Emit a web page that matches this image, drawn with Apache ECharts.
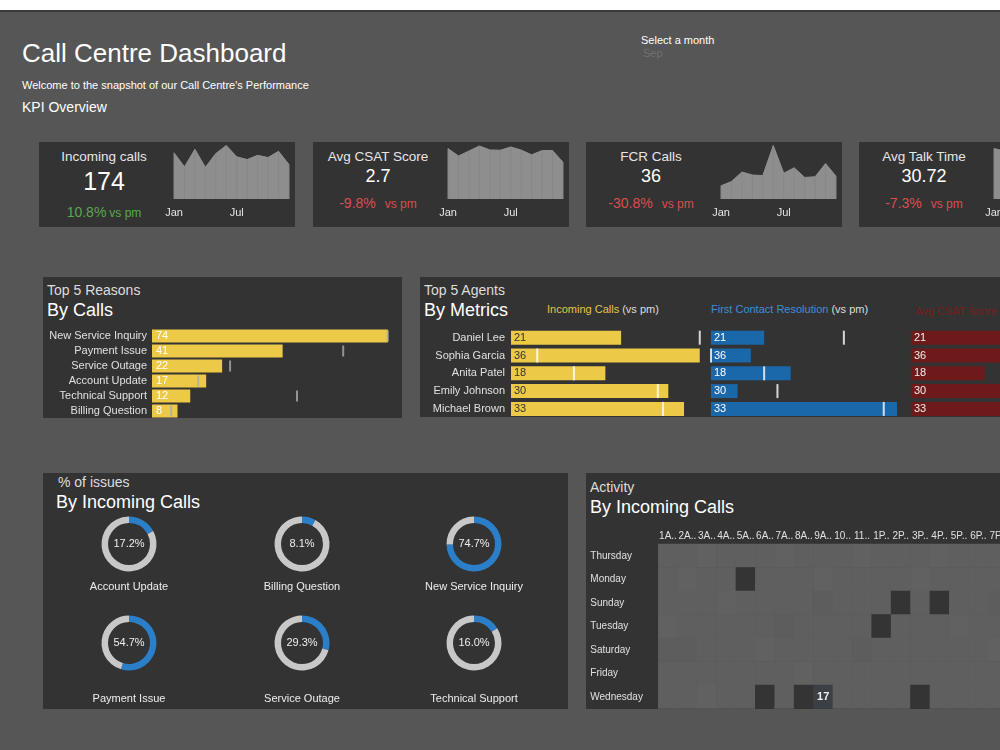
<!DOCTYPE html>
<html lang="en">
<head>
<meta charset="utf-8">
<title>Call Centre Dashboard</title>
<script src="https://cdn.jsdelivr.net/npm/echarts@6.0.0/dist/echarts.min.js"></script>
<style>
  html, body { margin: 0; padding: 0; }
  body { width: 1000px; height: 750px; overflow: hidden; position: relative; background: #fff;
         font-family: "Liberation Sans", Arial, sans-serif; color: #eee; }
  #page { position: absolute; left: 0; top: 10px; width: 1000px; height: 740px; background: #565656;
          border-top: 2px solid #3a3a3a; box-sizing: border-box; }
  .panel { position: absolute; background: #333; }
  .t { position: absolute; white-space: nowrap; line-height: 1; }
  #chart { position: absolute; left: 0; top: 0; width: 1000px; height: 750px; }
</style>
</head>
<body>
<div id="page"></div>

<!-- header -->
<div class="t" style="left:22px;top:39.5px;font-size:26px;color:#fff">Call Centre Dashboard</div>
<div class="t" style="left:22px;top:79.5px;font-size:11px;color:#fff">Welcome to the snapshot of our Call Centre's Performance</div>
<div class="t" style="left:22px;top:100px;font-size:14px;color:#fff">KPI Overview</div>
<div class="t" style="left:641px;top:34.5px;font-size:11px;color:#fff">Select a month</div>
<div class="t" id="month" style="left:643px;top:47.5px;font-size:11px;color:#707070"></div>

<!-- panels -->
<div class="panel" style="left:43px;top:277px;width:359px;height:141px"></div>
<div class="panel" style="left:420px;top:277px;width:600px;height:140px"></div>
<div class="panel" style="left:43px;top:473px;width:525px;height:236px"></div>
<div class="panel" style="left:586px;top:473px;width:500px;height:236px"></div>

<div class="t" style="left:47px;top:283px;font-size:14px;color:#ddd">Top 5 Reasons</div>
<div class="t" style="left:47px;top:300.5px;font-size:18px;color:#fff">By Calls</div>
<div class="t" style="left:424px;top:283px;font-size:14px;color:#ddd">Top 5 Agents</div>
<div class="t" style="left:424px;top:300.5px;font-size:18px;color:#fff">By Metrics</div>
<div class="t" style="left:547px;top:303.5px;font-size:11px;color:#ddd"><span style="color:#e6c34a">Incoming Calls</span> (vs pm)</div>
<div class="t" style="left:711px;top:303.5px;font-size:11px;color:#ddd"><span style="color:#3d8fd6">First Contact Resolution</span> (vs pm)</div>
<div class="t" style="left:915px;top:305.5px;font-size:11px;color:#7a1c1c">Avg CSAT Score</div>
<div class="t" style="left:58px;top:475px;font-size:14px;color:#ddd">% of issues</div>
<div class="t" style="left:56px;top:492.7px;font-size:18px;color:#fff">By Incoming Calls</div>
<div class="t" style="left:590px;top:480px;font-size:14px;color:#ddd">Activity</div>
<div class="t" style="left:590px;top:497.7px;font-size:18px;color:#fff">By Incoming Calls</div>

<div id="chart"></div>

<script>
// ---- data ----
var selectedMonth = 'Sep';
var months = ['Jan', 'Feb', 'Mar', 'Apr', 'May', 'Jun', 'Jul', 'Aug', 'Sep', 'Oct', 'Nov', 'Dec'];

var kpiNames = ['Incoming calls', 'Avg CSAT Score', 'FCR Calls', 'Avg Talk Time'];
var kpiValues = ['174', '2.7', '36', '30.72'];
var kpiChange = [10.8, -9.8, -30.8, -7.3];

var incomingTrend = [184, 128, 198, 126, 181, 213, 168, 157, 174, 165, 190, 137];
var csatTrend = [3.08, 2.63, 2.93, 3.24, 3.0, 2.98, 3.18, 2.99, 2.7, 2.96, 2.96, 2.25];
var fcrTrend = [22, 29, 45, 40, 39, 89, 43, 52, 36, 37, 59, 38];
var talkTimeTrend = [33.6, 32.0, 31.5, 33.0, 32.5, 31.0, 32.8, 33.1, 30.7, 31.9, 32.4, 31.2];

var reasonNames = ['New Service Inquiry', 'Payment Issue', 'Service Outage', 'Account Update', 'Technical Support', 'Billing Question'];
var reasonCalls = [74, 41, 22, 17, 12, 8];
var reasonPrev = [74, 60, 24.5, 14.5, 45.5, 6];

var agentNames = ['Daniel Lee', 'Sophia Garcia', 'Anita Patel', 'Emily Johnson', 'Michael Brown'];
var agentCalls = [21, 36, 18, 30, 33];
var agentCallsPm = [36, 5, 12, 28, 29];
var agentFcr = [4, 3, 6, 2, 14];
var agentFcrPm = [10, 0, 4, 5, 13];
var agentCsat = [3.4, 3.1, 1.9, 2.9, 3.3];

var issueNames = ['Account Update', 'Billing Question', 'New Service Inquiry', 'Payment Issue', 'Service Outage', 'Technical Support'];
var issueShare = [17.2, 8.1, 74.7, 54.7, 29.3, 16.0];

var days = ['Thursday', 'Monday', 'Sunday', 'Tuesday', 'Saturday', 'Friday', 'Wednesday'];
var hours = ['1AM', '2AM', '3AM', '4AM', '5AM', '6AM', '7AM', '8AM', '9AM', '10AM', '11AM',
             '1PM', '2PM', '3PM', '4PM', '5PM', '6PM', '7PM', '8PM', '9PM', '10PM', '11PM'];
var activity = [
  [2, 2, 1, 2, 2, 2, 1, 2, 2, 2, 1, 2, 2, 2, 1, 2, 2, 2, 1, 2, 2, 2],
  [2, 1, 2, 2, 12, 2, 2, 2, 1, 2, 2, 2, 2, 1, 2, 2, 2, 2, 2, 1, 2, 2],
  [2, 2, 2, 1, 2, 2, 2, 2, 3, 2, 2, 2, 11, 2, 12, 2, 2, 3, 2, 2, 2, 2],
  [1, 2, 2, 2, 2, 2, 3, 2, 2, 2, 2, 11, 2, 2, 2, 1, 2, 2, 2, 2, 1, 2],
  [3, 3, 2, 2, 2, 1, 2, 2, 2, 2, 3, 2, 2, 2, 2, 2, 2, 1, 2, 2, 2, 2],
  [2, 2, 2, 2, 2, 2, 2, 1, 2, 2, 2, 2, 2, 2, 2, 2, 2, 2, 2, 2, 2, 2],
  [2, 2, 1, 2, 2, 13, 2, 14, 17, 2, 2, 2, 2, 12, 2, 2, 2, 2, 2, 2, 2, 2]
];

// ---- colours ----
var yellow = '#edc948', blue = '#1a67aa', darkRed = '#6e1a1a', ringBlue = '#2a7fc8';
var green = '#5aa84a', red = '#dc4e4e';

document.getElementById('month').textContent = selectedMonth;

// ---- KPI cards (html) ----
var cardX = [39, 313, 586, 859];
function addText(html, x, y, size, color, width) {
  var d = document.createElement('div');
  d.className = 't';
  d.style.cssText = 'left:' + x + 'px;top:' + y + 'px;font-size:' + size + 'px;color:' + color +
    ';width:' + width + 'px;text-align:center';
  d.innerHTML = html;
  document.body.insertBefore(d, document.getElementById('chart'));
}
kpiNames.forEach(function (name, i) {
  var x = cardX[i], big = i === 0;
  var p = document.createElement('div');
  p.className = 'panel';
  p.style.cssText = 'left:' + x + 'px;top:142px;width:256px;height:85px';
  document.body.insertBefore(p, document.getElementById('chart'));
  addText(name, x, 150, 13.5, '#e6e6e6', 130);
  addText(kpiValues[i], x, big ? 169 : 166.7, big ? 25 : 18, '#fff', 130);
  var c = kpiChange[i];
  addText('<span style="font-size:14px">' + c.toFixed(1) + '%</span><span style="font-size:12px;margin-left:' +
    (big ? 3 : 9) + 'px">vs pm</span>', x, big ? 205.3 : 196.3, 14, c > 0 ? green : red, 130);
});

// ---- charts ----
var chart = echarts.init(document.getElementById('chart'));
var grid = [], xAxis = [], yAxis = [], series = [], graphic = [];
var noLine = {show: false};

function addGrid(g, xa, ya) {
  g.outerBoundsMode = 'none';
  grid.push(g);
  xa.gridIndex = ya.gridIndex = grid.length - 1;
  xAxis.push(xa);
  yAxis.push(ya);
  return grid.length - 1;
}

// sparklines
var trends = [incomingTrend, csatTrend, fcrTrend, talkTimeTrend];
var trendMax = [215, 3.3, 90, 36];
trends.forEach(function (data, i) {
  var gi = addGrid({left: cardX[i] + 135, top: 145, width: 115, height: 54},
    {type: 'category', data: months, boundaryGap: false, axisLine: noLine, axisTick: noLine, splitLine: noLine,
     axisLabel: {color: '#e6e6e6', fontSize: 11, margin: 8, interval: 5}},
    {type: 'value', min: 0, max: trendMax[i], show: false});
  series.push({type: 'line', xAxisIndex: gi, yAxisIndex: gi, data: data, symbol: 'none', silent: true, z: 2,
    lineStyle: {color: '#929292', width: 1}, areaStyle: {color: '#8e8e8e', opacity: 1}});
  series.push({type: 'bar', xAxisIndex: gi, yAxisIndex: gi, data: data, barWidth: 1, silent: true, z: 3,
    itemStyle: {color: '#878787'}});
});

// top 5 reasons
var gr = addGrid({left: 152, top: 328.5, width: 239, height: 90},
  {type: 'value', min: 0, max: 75, show: false},
  {type: 'category', data: reasonNames, inverse: true, axisLine: noLine, axisTick: noLine,
   axisLabel: {color: '#e0e0e0', fontSize: 11, margin: 5}});
series.push({type: 'bar', xAxisIndex: gr, yAxisIndex: gr, data: reasonCalls, barWidth: 13, silent: true,
  itemStyle: {color: yellow, borderWidth: 0},
  label: {show: true, position: 'insideLeft', distance: 4, color: '#fff', fontSize: 11}});
series.push({type: 'scatter', xAxisIndex: gr, yAxisIndex: gr, silent: true, z: 5,
  data: reasonPrev.map(function (v, i) { return [v, i]; }),
  symbol: 'rect', symbolSize: [2, 11], itemStyle: {color: '#ababab'}});

// top 5 agents: three metric columns
var agentCols = [
  {left: 511, max: 37, values: agentCalls, pm: agentCallsPm, color: yellow, text: '#333'},
  {left: 711, max: 14.6, values: agentFcr, pm: agentFcrPm, color: blue, text: '#fff'},
  {left: 911, max: 5, values: agentCsat, pm: null, color: darkRed, text: '#eee'}
];
agentCols.forEach(function (col, k) {
  var ga = addGrid({left: col.left, top: 328.8, width: 194, height: 89},
    {type: 'value', min: 0, max: col.max, show: false},
    {type: 'category', data: agentNames, inverse: true, axisLine: noLine, axisTick: noLine,
     axisLabel: {show: k === 0, color: '#e0e0e0', fontSize: 11, margin: 6}});
  series.push({type: 'bar', xAxisIndex: ga, yAxisIndex: ga, data: col.values, barWidth: 14, silent: true,
    itemStyle: {color: col.color, borderWidth: 0},
    label: {show: true, position: 'insideLeft', distance: 3, color: col.text, fontSize: 11,
      formatter: function (p) { return agentCalls[p.dataIndex]; }}});
  if (col.pm) {
    series.push({type: 'scatter', xAxisIndex: ga, yAxisIndex: ga, silent: true, z: 5,
      data: col.pm.map(function (v, i) { return [v, i]; }),
      symbol: 'rect', symbolSize: [2, 14], itemStyle: {color: '#fff'}});
  }
});

// % of issues donuts
var donutCols = [129, 302, 474], donutRows = [544, 643], nameRows = [586.7, 699.3];
issueNames.forEach(function (name, i) {
  var cx = donutCols[i % 3], r = Math.floor(i / 3);
  series.push({type: 'pie', center: [cx, donutRows[r]], radius: [21, 27.5], startAngle: 90, clockwise: true,
    silent: true, emphasis: {disabled: true}, label: {show: false}, labelLine: {show: false},
    itemStyle: {borderWidth: 0},
    data: [
      {value: issueShare[i], itemStyle: {color: ringBlue},
       label: {show: true, position: 'center', formatter: issueShare[i].toFixed(1) + '%', color: '#eee', fontSize: 11}},
      {value: 100 - issueShare[i], itemStyle: {color: '#c8c8c8'}}
    ]});
  graphic.push({type: 'text', x: cx, y: nameRows[r], silent: true,
    style: {text: name, fill: '#eee', font: '11px "Liberation Sans", Arial, sans-serif',
            align: 'center', verticalAlign: 'middle', textAlign: 'center', textVerticalAlign: 'middle'}});
});

// activity heatmap
var gh = addGrid({left: 658.3, top: 544, width: hours.length * 19.4, height: 164.5},
  {type: 'category', data: hours, position: 'top', axisLine: noLine, axisTick: noLine, splitLine: noLine,
   axisLabel: {color: '#e0e0e0', fontSize: 10, margin: 3, interval: 0,
     formatter: function (h) { return h.slice(0, 2) + '..'; }}},
  {type: 'category', data: days, inverse: true, axisLine: noLine, axisTick: noLine, splitLine: noLine,
   axisLabel: {color: '#e0e0e0', fontSize: 10, align: 'left', margin: 68}});
var heatData = [];
activity.forEach(function (row, r) {
  row.forEach(function (v, c) { heatData.push([c, r, v]); });
});
series.push({type: 'heatmap', xAxisIndex: gh, yAxisIndex: gh, data: heatData, silent: true,
  emphasis: {disabled: true},
  label: {show: true, color: '#eee', fontSize: 11, fontWeight: 'bold',
    formatter: function (p) { return p.value[2] >= 17 ? String(p.value[2]) : ''; }}});
var heatIndex = series.length - 1;

chart.setOption({
  animation: false,
  backgroundColor: 'transparent',
  textStyle: {fontFamily: '"Liberation Sans", Arial, sans-serif'},
  grid: grid,
  xAxis: xAxis,
  yAxis: yAxis,
  visualMap: {
    type: 'piecewise', show: false, seriesIndex: heatIndex, dimension: 2,
    pieces: [
      {lte: 1, color: '#616161'},
      {gt: 1, lte: 2, color: '#5f5f5f'},
      {gt: 2, lte: 5, color: '#5d5d5d'},
      {gt: 5, lt: 17, color: '#343434'},
      {gte: 17, color: '#3b3f46'}
    ]
  },
  graphic: graphic,
  series: series
});
</script>
</body>
</html>
